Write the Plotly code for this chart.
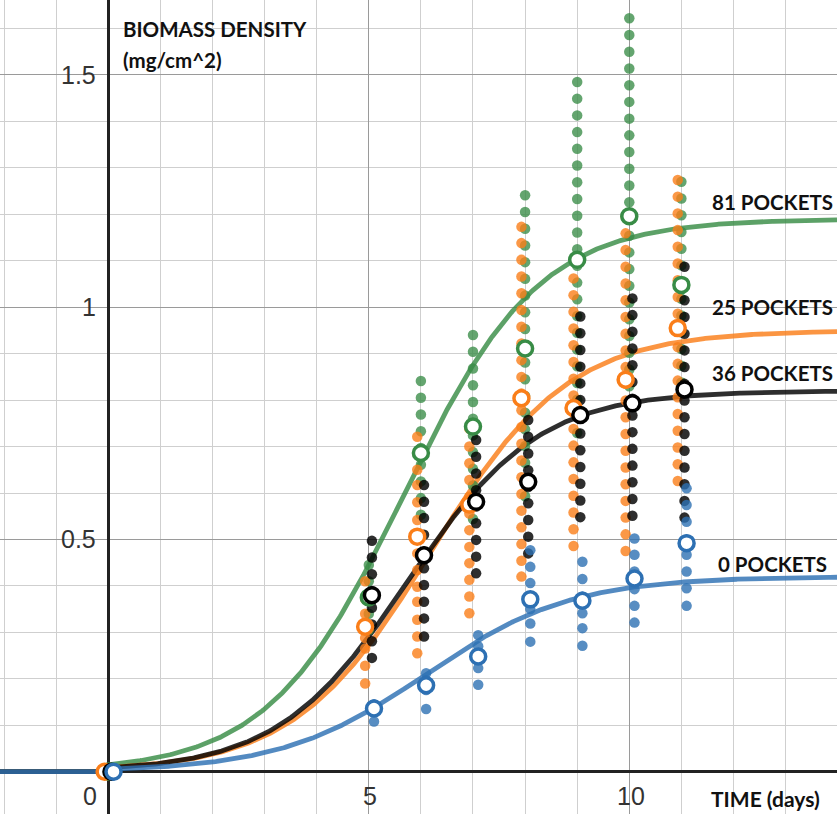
import numpy as np
import plotly.graph_objects as go

# Sampling days for the replicate measurements
days = [5, 6, 7, 8, 9, 10, 11]
mean_days = [0, 5, 6, 7, 8, 9, 10, 11]

# Replicate biomass densities (mg/cm^2), one list per sampling day
pockets_81 = [
    [0.445, 0.41, 0.375, 0.34, 0.305],
    [0.841, 0.805, 0.769, 0.733, 0.697, 0.661, 0.625, 0.589, 0.553],
    [0.94, 0.904, 0.868, 0.832, 0.796, 0.76, 0.724, 0.688, 0.652, 0.616, 0.58, 0.544],
    [1.241, 1.205, 1.169, 1.133, 1.097, 1.061, 1.025, 0.989, 0.953, 0.917, 0.881, 0.845,
     0.809, 0.773, 0.737, 0.701, 0.665, 0.629, 0.593],
    [1.485, 1.449, 1.413, 1.377, 1.341, 1.305, 1.269, 1.233, 1.197, 1.161, 1.125, 1.089,
     1.053, 1.017, 0.981, 0.945, 0.909, 0.873, 0.837, 0.801, 0.765, 0.729],
    [1.622, 1.586, 1.55, 1.514, 1.478, 1.442, 1.406, 1.37, 1.334, 1.298, 1.262, 1.226,
     1.19, 1.154, 1.118, 1.082, 1.046, 1.01, 0.974, 0.938, 0.902, 0.866, 0.83, 0.794],
    [1.27, 1.234, 1.198, 1.162, 1.126, 1.09, 1.054, 1.018, 0.982, 0.946, 0.91, 0.874, 0.838],
]
pockets_25 = [
    [0.41, 0.372, 0.34, 0.31, 0.288, 0.265, 0.228, 0.19],
    [0.721, 0.685, 0.65, 0.617, 0.58, 0.542, 0.506, 0.47, 0.434, 0.398, 0.366, 0.327, 0.291, 0.255],
    [0.739, 0.70, 0.664, 0.628, 0.592, 0.556, 0.52, 0.484, 0.449, 0.413, 0.377, 0.341],
    [1.173, 1.138, 1.102, 1.066, 1.03, 0.994, 0.958, 0.922, 0.886, 0.85, 0.814, 0.778,
     0.742, 0.706, 0.67, 0.634, 0.598, 0.562, 0.526, 0.49, 0.454, 0.42],
    [1.062, 1.026, 0.99, 0.954, 0.918, 0.882, 0.846, 0.81, 0.774, 0.738, 0.702, 0.666,
     0.63, 0.594, 0.558, 0.522, 0.486],
    [1.195, 1.159, 1.123, 1.087, 1.051, 1.015, 0.979, 0.943, 0.907, 0.871, 0.835, 0.799,
     0.763, 0.727, 0.691, 0.655, 0.619, 0.583, 0.547, 0.511, 0.475],
    [1.274, 1.238, 1.202, 1.166, 1.13, 1.094, 1.058, 1.022, 0.986, 0.95, 0.914, 0.878,
     0.842, 0.806, 0.77, 0.734, 0.698, 0.662, 0.626],
]
pockets_36 = [
    [0.497, 0.461, 0.425, 0.389, 0.353, 0.317, 0.281, 0.245],
    [0.617, 0.581, 0.546, 0.51, 0.474, 0.438, 0.402, 0.366, 0.33, 0.291],
    [0.714, 0.678, 0.642, 0.606, 0.571, 0.535, 0.499, 0.463, 0.427],
    [0.757, 0.721, 0.685, 0.649, 0.613, 0.578, 0.542, 0.506, 0.47],
    [0.98, 0.944, 0.908, 0.872, 0.836, 0.8, 0.764, 0.728, 0.692, 0.656, 0.62, 0.584, 0.548],
    [1.019, 0.983, 0.947, 0.911, 0.875, 0.839, 0.803, 0.767, 0.731, 0.695, 0.659, 0.623,
     0.587, 0.551],
    [1.087, 1.051, 1.015, 0.979, 0.943, 0.907, 0.871, 0.835, 0.799, 0.763, 0.727, 0.691,
     0.655, 0.619, 0.583, 0.547],
]
pockets_0 = [
    [0.145, 0.13, 0.108],
    [0.212, 0.197, 0.176, 0.135],
    [0.294, 0.27, 0.245, 0.223, 0.187],
    [0.477, 0.441, 0.406, 0.373, 0.35, 0.319, 0.28],
    [0.452, 0.415, 0.377, 0.341, 0.309, 0.271],
    [0.502, 0.467, 0.431, 0.393, 0.357, 0.321],
    [0.61, 0.574, 0.538, 0.5, 0.467, 0.431, 0.395, 0.357],
]

# Daily means (hollow markers), including the day-0 inoculum
means_81 = [0.0, 0.375, 0.686, 0.743, 0.911, 1.102, 1.196, 1.048]
means_25 = [0.0, 0.312, 0.506, 0.575, 0.804, 0.783, 0.844, 0.955]
means_36 = [0.0, 0.380, 0.466, 0.581, 0.624, 0.768, 0.793, 0.823]
means_0 = [0.0, 0.136, 0.186, 0.248, 0.371, 0.368, 0.416, 0.492]

# Logistic growth fits: capacity L, rate k, midpoint t0
fit_L = {"81": 1.19, "25": 0.95, "36": 0.82, "0": 0.42}
fit_k = {"81": 0.77, "25": 0.76, "36": 0.80, "0": 0.72}
fit_t0 = {"81": 5.67, "25": 6.20, "36": 5.75, "0": 6.10}

series_names = ["81", "25", "36", "0"]
labels = {"81": "81 POCKETS", "25": "25 POCKETS", "36": "36 POCKETS", "0": "0 POCKETS"}
label_y = {"81": 1.226, "25": 1.0, "36": 0.858, "0": 0.447}
line_colors = {"81": "rgba(56,140,70,0.82)", "25": "rgba(250,126,25,0.82)",
               "36": "rgba(0,0,0,0.82)", "0": "rgba(45,112,179,0.82)"}
dot_colors = {"81": "rgba(56,140,70,0.78)", "25": "rgba(250,126,25,0.8)",
              "36": "rgba(0,0,0,0.82)", "0": "rgba(45,112,179,0.8)"}
solid_colors = {"81": "#388c46", "25": "#fa7e19", "36": "#000000", "0": "#2d70b3"}
x_shift = {"81": 0.0, "25": -0.07, "36": 0.06, "0": 0.1}
replicates = {"81": pockets_81, "25": pockets_25, "36": pockets_36, "0": pockets_0}
means = {"81": means_81, "25": means_25, "36": means_36, "0": means_0}

X_MIN, X_MAX = -2.079, 13.987
Y_MIN, Y_MAX = -0.0911, 1.6614

fig = go.Figure()

t = np.linspace(X_MIN, X_MAX, 700)
t = np.sort(np.append(t, [0.0, -1e-6]))
for s in series_names:
    curve = fit_L[s] / (1.0 + np.exp(-fit_k[s] * (t - fit_t0[s])))
    curve = np.where(t < 0, 0.0, curve)
    fig.add_trace(go.Scatter(x=t, y=curve, mode="lines",
                             line=dict(color=line_colors[s], width=4.8),
                             hoverinfo="skip", showlegend=False))

for s in series_names:
    xs, ys = [], []
    for d, vals in zip(days, replicates[s]):
        xs += [d + x_shift[s]] * len(vals)
        ys += vals
    fig.add_trace(go.Scatter(x=xs, y=ys, mode="markers",
                             marker=dict(size=10.5, color=dot_colors[s], line=dict(width=0)),
                             showlegend=False))

for s in series_names:
    fig.add_trace(go.Scatter(x=[d + x_shift[s] for d in mean_days], y=means[s],
                             mode="markers",
                             marker=dict(size=15, color="white",
                                         line=dict(color=solid_colors[s], width=3.5)),
                             showlegend=False))

label_font = dict(family="Lato", size=20.5, color="#111111")
for s in series_names:
    fig.add_annotation(x=12.75, y=label_y[s], text="<b>%s</b>" % labels[s],
                       showarrow=False, font=label_font, xanchor="center", yanchor="middle")

fig.add_annotation(x=0.25, y=1.598, text="<b>BIOMASS DENSITY</b>", showarrow=False,
                   font=label_font, xanchor="left", yanchor="middle")
fig.add_annotation(x=0.25, y=1.532, text="<b>(mg/cm^2)</b>", showarrow=False,
                   font=label_font, xanchor="left", yanchor="middle")
fig.add_annotation(x=12.62, y=-0.058, text="<b>TIME (days)</b>", showarrow=False,
                   font=dict(family="Lato", size=21, color="#111111"),
                   xanchor="center", yanchor="middle")

tick_font = dict(family="Liberation Sans", size=25, color="#333333")
x_ticks = [0, 5, 10]
x_tick_text = ["0", "5", "10"]
for v, txt in zip(x_ticks, x_tick_text):
    fig.add_annotation(x=v - (0.36 if v == 0 else -0.03), y=-0.052, text=txt,
                       showarrow=False, font=tick_font, xanchor="center", yanchor="middle")
y_ticks = [0.5, 1.0, 1.5]
y_tick_text = ["0.5", "1", "1.5"]
for v, txt in zip(y_ticks, y_tick_text):
    fig.add_annotation(x=-0.2, y=v, text=txt, showarrow=False, font=tick_font,
                       xanchor="right", yanchor="middle")

fig.update_layout(
    width=837, height=814,
    margin=dict(l=0, r=0, t=0, b=0),
    paper_bgcolor="white", plot_bgcolor="white",
    xaxis=dict(range=[X_MIN, X_MAX], showticklabels=False, ticks="",
               dtick=5, showgrid=True, gridcolor="#9a9a9a", gridwidth=1.3,
               minor=dict(dtick=1, showgrid=True, gridcolor="#cfcfcf", gridwidth=1.3),
               zeroline=True, zerolinecolor="#222222", zerolinewidth=2.5,
               showline=False, fixedrange=True),
    yaxis=dict(range=[Y_MIN, Y_MAX], showticklabels=False, ticks="",
               dtick=0.5, showgrid=True, gridcolor="#9a9a9a", gridwidth=1.3,
               minor=dict(dtick=0.1, showgrid=True, gridcolor="#cfcfcf", gridwidth=1.3),
               zeroline=True, zerolinecolor="#222222", zerolinewidth=2.5,
               showline=False, fixedrange=True),
)

fig.write_html("out.html")
